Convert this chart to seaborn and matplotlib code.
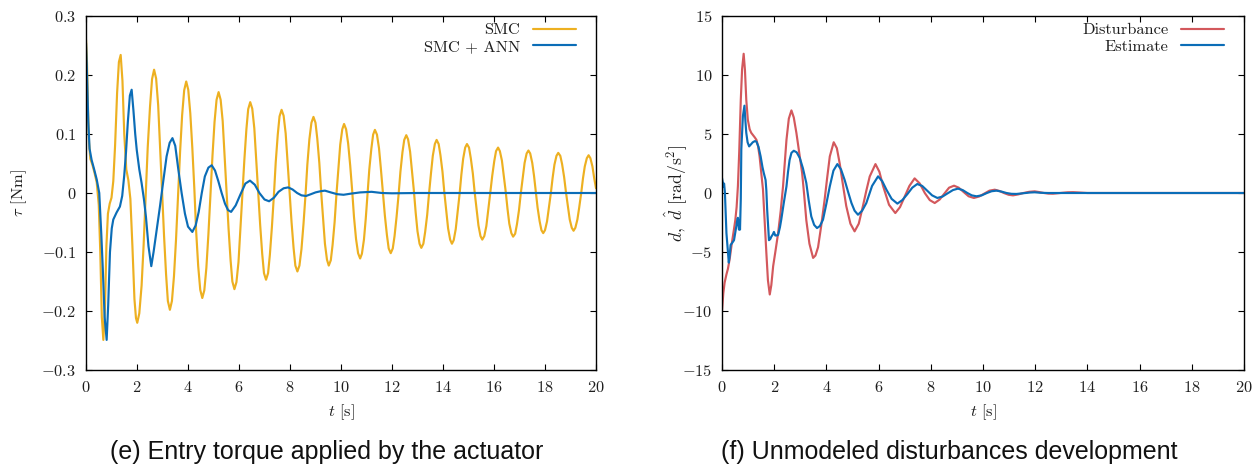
import matplotlib
matplotlib.use("Agg")
import matplotlib.pyplot as plt
import pandas as pd
import seaborn as sns

# ---------------------------------------------------------------- data
# (e) actuator torque, SMC alone
smc_t = [0.00, 0.04, 0.08, 0.12, 0.17, 0.25, 0.33, 0.42, 0.50, 0.56, 0.62, 0.68,
         0.74, 0.80, 0.86, 0.93, 1.00, 1.07, 1.14, 1.22, 1.29, 1.36,
         1.43, 1.50, 1.58, 1.66, 1.74, 1.82, 1.90, 1.96, 2.01,
         2.09, 2.18, 2.26, 2.34, 2.42, 2.51, 2.59, 2.67,
         2.75, 2.83, 2.90, 2.98, 3.06, 3.14, 3.21, 3.29,
         3.37, 3.45, 3.53, 3.61, 3.69, 3.77, 3.85, 3.93,
         4.01, 4.09, 4.17, 4.25, 4.32, 4.40, 4.48, 4.56,
         4.64, 4.72, 4.80, 4.88, 4.96, 5.04, 5.12, 5.20,
         5.28, 5.36, 5.43, 5.51, 5.59, 5.67, 5.74, 5.82,
         5.90, 5.98, 6.05, 6.13, 6.21, 6.29, 6.36, 6.44,
         6.52, 6.60, 6.67, 6.75, 6.83, 6.91, 6.98, 7.06,
         7.14, 7.21, 7.29, 7.37, 7.44, 7.52, 7.59, 7.67,
         7.75, 7.83, 7.90, 7.98, 8.06, 8.14, 8.21, 8.29,
         8.37, 8.45, 8.53, 8.61, 8.68, 8.76, 8.84, 8.92,
         9.00, 9.07, 9.15, 9.22, 9.30, 9.37, 9.45, 9.52,
         9.60, 9.67, 9.75, 9.82, 9.90, 9.97, 10.05, 10.12,
         10.20, 10.28, 10.36, 10.44, 10.51, 10.59, 10.67, 10.75,
         10.82, 10.90, 10.97, 11.04, 11.11, 11.19, 11.26, 11.33,
         11.41, 11.49, 11.56, 11.64, 11.72, 11.80, 11.87, 11.95,
         12.03, 12.10, 12.18, 12.26, 12.33, 12.41, 12.48, 12.56,
         12.63, 12.71, 12.78, 12.86, 12.93, 13.00, 13.08, 13.15,
         13.23, 13.30, 13.38, 13.45, 13.53, 13.60, 13.68, 13.75,
         13.83, 13.90, 13.98, 14.05, 14.13, 14.20, 14.28, 14.35,
         14.42, 14.50, 14.57, 14.65, 14.72, 14.79, 14.87, 14.94,
         15.02, 15.09, 15.17, 15.24, 15.32, 15.39, 15.47, 15.54,
         15.62, 15.70, 15.77, 15.85, 15.93, 16.01, 16.08, 16.16,
         16.23, 16.31, 16.38, 16.46, 16.53, 16.60, 16.68, 16.75,
         16.83, 16.90, 16.98, 17.05, 17.13, 17.20, 17.28, 17.35,
         17.42, 17.50, 17.57, 17.64, 17.71, 17.79, 17.86, 17.93,
         18.00, 18.08, 18.15, 18.23, 18.30, 18.37, 18.45, 18.52,
         18.60, 18.67, 18.75, 18.82, 18.90, 18.97, 19.05, 19.12,
         19.19, 19.27, 19.34, 19.42, 19.49, 19.56, 19.64, 19.71,
         19.78, 19.86, 19.93, 20.00]
smc_tau = [0.260, 0.220, 0.140, 0.085, 0.058, 0.048, 0.035, 0.018, -0.020, -0.100,
           -0.210, -0.249, -0.200, -0.090, -0.035, -0.018, -0.008, 0.020, 0.080,
           0.170, 0.222, 0.234,
           0.190, 0.100, 0.040, 0.022, -0.010, -0.090, -0.180, -0.212, -0.220,
           -0.204, -0.157, -0.088, -0.006, 0.077, 0.146, 0.193, 0.209,
           0.194, 0.149, 0.083, 0.006, -0.072, -0.138, -0.183, -0.198,
           -0.183, -0.141, -0.079, -0.005, 0.070, 0.132, 0.174, 0.189,
           0.175, 0.135, 0.076, 0.006, -0.065, -0.124, -0.164, -0.178,
           -0.165, -0.127, -0.070, -0.004, 0.063, 0.120, 0.158, 0.171,
           0.158, 0.122, 0.068, 0.004, -0.060, -0.114, -0.150, -0.163,
           -0.151, -0.117, -0.065, -0.005, 0.056, 0.108, 0.142, 0.154,
           0.143, 0.110, 0.061, 0.004, -0.054, -0.103, -0.136, -0.147,
           -0.136, -0.105, -0.058, -0.003, 0.052, 0.099, 0.130, 0.141,
           0.131, 0.101, 0.057, 0.004, -0.049, -0.093, -0.123, -0.133,
           -0.123, -0.095, -0.052, -0.002, 0.048, 0.091, 0.119, 0.129,
           0.119, 0.092, 0.051, 0.003, -0.045, -0.086, -0.113, -0.123,
           -0.114, -0.088, -0.049, -0.003, 0.043, 0.082, 0.108, 0.117,
           0.108, 0.084, 0.047, 0.003, -0.041, -0.078, -0.102, -0.111,
           -0.103, -0.079, -0.044, -0.002, 0.040, 0.075, 0.099, 0.107,
           0.099, 0.076, 0.043, 0.003, -0.038, -0.071, -0.094, -0.102,
           -0.094, -0.073, -0.040, -0.002, 0.036, 0.069, 0.090, 0.098,
           0.091, 0.070, 0.039, 0.003, -0.034, -0.065, -0.086, -0.093,
           -0.086, -0.066, -0.037, -0.002, 0.034, 0.063, 0.083, 0.090,
           0.083, 0.064, 0.036, 0.002, -0.032, -0.060, -0.079, -0.086,
           -0.080, -0.061, -0.034, -0.002, 0.031, 0.058, 0.077, 0.083,
           0.077, 0.059, 0.033, 0.002, -0.029, -0.055, -0.073, -0.079,
           -0.073, -0.056, -0.031, -0.001, 0.029, 0.054, 0.071, 0.077,
           0.071, 0.055, 0.030, 0.002, -0.027, -0.052, -0.068, -0.074,
           -0.069, -0.053, -0.029, -0.001, 0.027, 0.051, 0.067, 0.072,
           0.067, 0.051, 0.029, 0.002, -0.025, -0.048, -0.063, -0.068,
           -0.063, -0.048, -0.026, 0.000, 0.026, 0.048, 0.063, 0.068,
           0.063, 0.049, 0.027, 0.002, -0.023, -0.045, -0.059, -0.064,
           -0.059, -0.045, -0.025, 0.000, 0.025, 0.045, 0.059, 0.064,
           0.059, 0.045, 0.025, 0.008]

# (e) actuator torque, SMC + ANN
ann_t = [0.00, 0.04, 0.09, 0.14, 0.22, 0.32, 0.42, 0.52, 0.60, 0.66, 0.73, 0.81,
         0.87, 0.94, 1.01, 1.07, 1.20, 1.33, 1.42, 1.50, 1.57, 1.64, 1.72, 1.79,
         1.86, 1.93, 1.99, 2.09, 2.18, 2.27, 2.35, 2.45, 2.56, 2.65, 2.78, 2.90,
         3.03, 3.16, 3.28, 3.39, 3.50, 3.62, 3.75, 3.88, 4.00, 4.17, 4.30, 4.42,
         4.54, 4.66, 4.80, 4.93, 5.06, 5.19, 5.32, 5.45, 5.57, 5.69, 5.87, 6.05,
         6.25, 6.43, 6.62, 6.80, 7.00, 7.18, 7.37, 7.55, 7.75, 7.93, 8.10, 8.28,
         8.45, 8.63, 8.82, 9.00, 9.20, 9.37, 9.60, 9.85, 10.10, 10.40, 10.75,
         11.20, 11.60, 12.00, 13.00, 20.00]
ann_tau = [0.254, 0.200, 0.120, 0.075, 0.056, 0.040, 0.023, 0.000, -0.070, -0.130,
           -0.210, -0.249, -0.190, -0.100, -0.060, -0.045, -0.033, -0.023, -0.005,
           0.030, 0.070, 0.120, 0.165, 0.175, 0.140, 0.100, 0.073, 0.040, 0.017,
           -0.010, -0.040, -0.090, -0.124, -0.100, -0.060, -0.023, 0.020, 0.062,
           0.085, 0.093, 0.080, 0.040, 0.000, -0.035, -0.057, -0.066, -0.055,
           -0.032, 0.000, 0.028, 0.043, 0.047, 0.038, 0.020, 0.000, -0.018,
           -0.029, -0.032, -0.021, -0.003, 0.016, 0.021, 0.014, 0.000, -0.011,
           -0.014, -0.008, 0.002, 0.008, 0.0095, 0.006, 0.000, -0.004, -0.005,
           -0.002, 0.001, 0.003, 0.004, 0.001, -0.002, -0.003, -0.001, 0.001,
           0.002, 0.000, -0.0005, 0.000, 0.000]

# (f) unmodeled disturbance
dist_t = [0.00, 0.05, 0.10, 0.17, 0.23, 0.30, 0.38, 0.45, 0.51, 0.56, 0.61, 0.66,
          0.72, 0.77, 0.83, 0.88, 0.93, 0.99, 1.06, 1.12, 1.19, 1.26, 1.32, 1.38,
          1.44, 1.50, 1.57, 1.63, 1.70, 1.76, 1.83, 1.89, 1.96, 2.05, 2.15, 2.25,
          2.34, 2.41, 2.47, 2.56, 2.66, 2.75, 2.85, 2.96, 3.07, 3.15, 3.23, 3.35,
          3.49, 3.58, 3.68, 3.80, 3.93, 4.03, 4.13, 4.28, 4.40, 4.51, 4.64, 4.76,
          4.92, 5.08, 5.24, 5.40, 5.53, 5.66, 5.88, 6.03, 6.17, 6.40, 6.64, 6.82,
          7.00, 7.18, 7.38, 7.58, 7.77, 7.96, 8.15, 8.34, 8.52, 8.70, 8.89, 9.07,
          9.25, 9.45, 9.65, 9.85, 10.05, 10.25, 10.45, 10.62, 10.80, 10.98, 11.15,
          11.35, 11.55, 11.77, 11.98, 12.15, 12.33, 12.50, 12.68, 12.87, 13.05,
          13.25, 13.45, 13.70, 14.00, 15.00, 20.00]
dist_d = [-10.0, -8.5, -7.6, -6.9, -6.4, -5.5, -4.2, -3.2, -2.3, -1.2, 0.6, 3.5,
          7.9, 10.5, 11.8, 10.4, 7.9, 6.2, 5.4, 5.1, 4.9, 4.7, 4.5, 4.0,
          3.1, 1.8, 0.3, -2.2, -5.1, -7.4, -8.6, -7.8, -6.2, -4.9, -3.4, -1.5,
          0.6, 2.7, 4.5, 6.3, 7.0, 6.4, 5.1, 3.4, 1.7, -0.2, -2.3, -4.3,
          -5.5, -5.3, -4.6, -2.8, -0.6, 1.3, 3.1, 4.3, 3.8, 2.5, 0.6, -1.1,
          -2.6, -3.25, -2.6, -1.1, 0.2, 1.4, 2.45, 1.8, 0.6, -1.0, -1.7, -1.2,
          -0.3, 0.6, 1.24, 0.8, 0.0, -0.6, -0.85, -0.55, -0.05, 0.45, 0.62, 0.45,
          0.10, -0.28, -0.42, -0.30, -0.05, 0.20, 0.28, 0.18, 0.00, -0.15, -0.20,
          -0.12, 0.00, 0.10, 0.14, 0.08, 0.00, -0.05, -0.06, -0.02, 0.02,
          0.06, 0.07, 0.04, 0.00, 0.00, 0.00]

# (f) disturbance estimate
est_t = [0.00, 0.03, 0.06, 0.08, 0.11, 0.17, 0.26, 0.30, 0.33, 0.40, 0.46, 0.55,
         0.59, 0.61, 0.63, 0.65, 0.67, 0.69, 0.72, 0.74, 0.80, 0.86, 0.90, 0.93,
         0.98, 1.04, 1.10, 1.18, 1.26, 1.32, 1.40, 1.48, 1.55, 1.60, 1.67, 1.70,
         1.73, 1.77, 1.80, 1.85, 1.89, 1.95, 1.99, 2.04, 2.09, 2.15, 2.22, 2.27,
         2.37, 2.47, 2.53, 2.59, 2.66, 2.75, 2.86, 2.98, 3.10, 3.23, 3.32, 3.42,
         3.53, 3.64, 3.75, 3.87, 4.00, 4.13, 4.27, 4.42, 4.56, 4.70, 4.83, 4.96,
         5.08, 5.21, 5.37, 5.53, 5.75, 5.98, 6.14, 6.30, 6.50, 6.72, 6.91, 7.10,
         7.29, 7.48, 7.67, 7.86, 8.05, 8.25, 8.45, 8.65, 8.85, 9.04, 9.22, 9.40,
         9.57, 9.75, 9.95, 10.15, 10.33, 10.52, 10.71, 10.90, 11.09, 11.28, 11.46,
         11.63, 11.80, 11.98, 12.20, 12.50, 20.00]
est_d = [1.27, 0.90, 0.56, 0.80, 0.10, -3.4, -5.9, -5.2, -4.4, -4.2, -4.0, -2.8,
         -2.2, -2.1, -2.6, -3.1, -2.3, -3.1, -0.5, 3.7, 6.5, 7.4, 6.0, 5.1,
         4.3, 3.95, 4.1, 4.3, 4.4, 4.35, 3.9, 3.1, 2.2, 1.7, 1.1, 0.2,
         -1.4, -2.9, -4.0, -3.9, -3.7, -3.5, -3.3, -3.6, -3.6, -3.55, -2.9, -2.26,
         -0.8, 0.56, 1.8, 2.8, 3.4, 3.58, 3.45, 2.97, 2.1, 0.85, -0.6, -1.98,
         -2.7, -2.97, -2.8, -2.26, -0.9, 0.56, 1.9, 2.45, 2.0, 1.1, 0.1, -0.85,
         -1.5, -1.84, -1.5, -0.85, 0.6, 1.41, 1.0, 0.28, -0.5, -0.9, -0.6, -0.1,
         0.45, 0.76, 0.60, 0.20, -0.20, -0.42, -0.30, -0.02, 0.25, 0.37, 0.25, 0.00,
         -0.20, -0.28, -0.20, 0.00, 0.15, 0.20, 0.12, 0.00, -0.07, -0.08, -0.04,
         0.00, 0.04, 0.06, 0.02, 0.00, 0.00]

x_ticks = [0, 2, 4, 6, 8, 10, 12, 14, 16, 18, 20]
tau_ticks = [-0.3, -0.2, -0.1, 0.0, 0.1, 0.2, 0.3]
tau_labels = ["-0.3", "-0.2", "-0.1", "0", "0.1", "0.2", "0.3"]
d_ticks = [-15, -10, -5, 0, 5, 10, 15]
d_labels = ["-15", "-10", "-5", "0", "5", "10", "15"]

captions = ["(e) Entry torque applied by the actuator",
            "(f) Unmodeled disturbances development"]

# ---------------------------------------------------------------- style
sns.set_style("ticks")
plt.rcParams.update({
    "font.family": "serif",
    "font.serif": ["cmr10", "DejaVu Serif"],
    "mathtext.fontset": "cm",
    "axes.unicode_minus": False,
    "axes.edgecolor": "black",
    "axes.linewidth": 1.0,
})

YELLOW = "#EDB021"
BLUE = "#0B6DB7"
RED = "#D3585C"
INK = "#1e1e1e"
FS = 11.8


def mtext(s):
    return "$" + s + "$"


def style_axes(ax, yticks, ylabels, ylim):
    ax.set_xlim(0, 20)
    ax.set_ylim(*ylim)
    ax.set_xticks(x_ticks)
    ax.set_xticklabels([mtext(str(v)) for v in x_ticks])
    ax.set_yticks(yticks)
    ax.set_yticklabels([mtext(s) for s in ylabels])
    ax.tick_params(direction="in", top=True, right=True, length=4,
                   width=0.8, labelsize=FS, colors="black", labelcolor=INK)
    ax.tick_params(axis="x", pad=7)
    ax.tick_params(axis="y", pad=7)
    for sp in ax.spines.values():
        sp.set_visible(True)
        sp.set_linewidth(1.0)
    ax.set_xlabel(r"$t$ [s]", fontsize=FS, color=INK)
    ax.xaxis.set_label_coords(0.5, -0.092)
    ax.grid(False)


fig = plt.figure(figsize=(12.59, 4.70), dpi=100)
ax1 = fig.add_axes([86 / 1259, 100 / 470, 510 / 1259, 354 / 470])
ax2 = fig.add_axes([722 / 1259, 100 / 470, 522 / 1259, 354 / 470])

df_smc = pd.DataFrame({"t": smc_t, "v": smc_tau})
df_ann = pd.DataFrame({"t": ann_t, "v": ann_tau})
df_dist = pd.DataFrame({"t": dist_t, "v": dist_d})
df_est = pd.DataFrame({"t": est_t, "v": est_d})

LW = 1.55
sns.lineplot(data=df_smc, x="t", y="v", ax=ax1, color=YELLOW, lw=LW,
             label="SMC", estimator=None, sort=False)
sns.lineplot(data=df_ann, x="t", y="v", ax=ax1, color=BLUE, lw=LW,
             label="SMC + ANN", estimator=None, sort=False)
sns.lineplot(data=df_dist, x="t", y="v", ax=ax2, color=RED, lw=LW,
             label="Disturbance", estimator=None, sort=False)
sns.lineplot(data=df_est, x="t", y="v", ax=ax2, color=BLUE, lw=LW,
             label="Estimate", estimator=None, sort=False)

style_axes(ax1, tau_ticks, tau_labels, (-0.3, 0.3))
style_axes(ax2, d_ticks, d_labels, (-15, 15))

ax1.set_ylabel(r"$\tau$ [Nm]", fontsize=FS, color=INK)
ax1.yaxis.set_label_coords(-0.112, 0.5)
ax2.set_ylabel(r"$d,\ \hat{d}$ [rad/s$^2$]", fontsize=12.8, color=INK)
ax2.yaxis.set_label_coords(-0.064, 0.5)

for ax in (ax1, ax2):
    w = ax.get_position().width * 1259
    leg = ax.legend(loc="upper right", frameon=False, markerfirst=False,
                    fontsize=FS, handlelength=2.6, handletextpad=0.8,
                    borderaxespad=0.0, borderpad=0.0, labelspacing=0.12,
                    bbox_to_anchor=(1 - 20 / w, 1 - 7 / 354))
    for t in leg.get_texts():
        t.set_color(INK)

fig.text(327 / 1259, 18 / 470, captions[0], ha="center", va="center",
         fontsize=18, family="Liberation Sans", color="#111111")
fig.text(949 / 1259, 18 / 470, captions[1], ha="center", va="center",
         fontsize=18, family="Liberation Sans", color="#111111")

fig.savefig("out.png", dpi=100)
